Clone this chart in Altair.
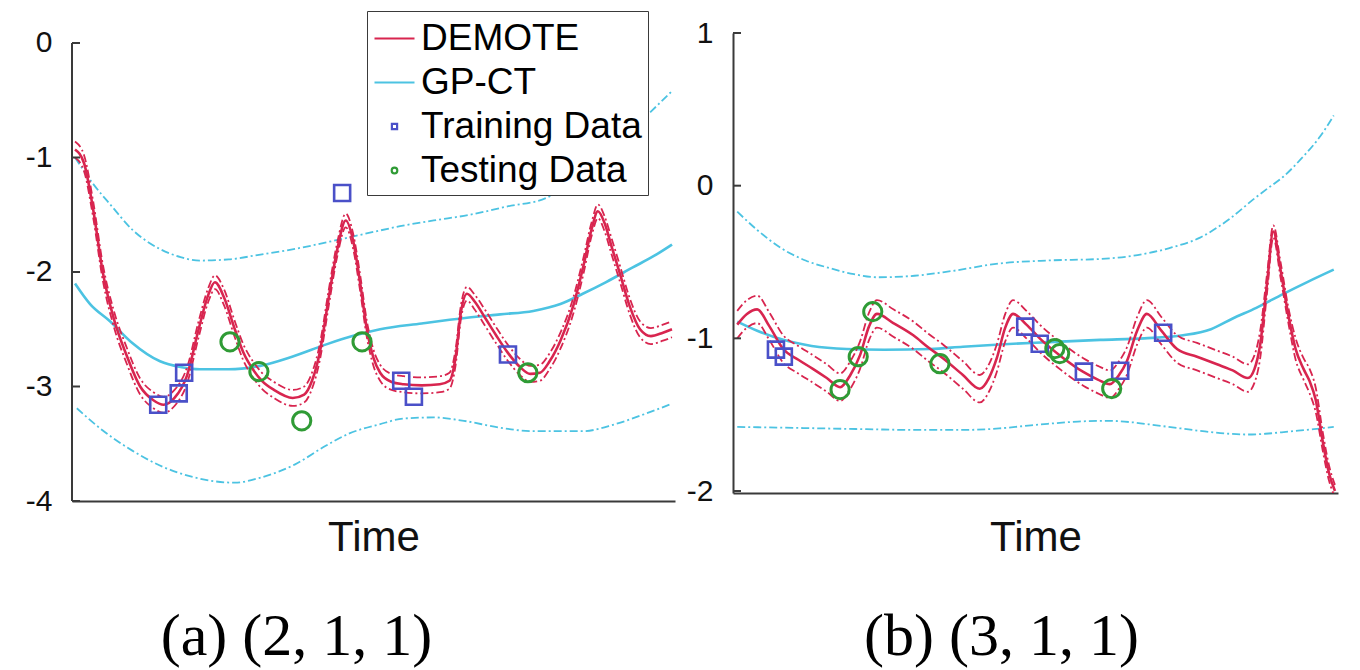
import altair as alt
import pandas as pd

RED = "#d8254f"
CYAN = "#4cc3e2"
BLUE = "#4a50c8"
GREEN = "#2f9b35"
AXIS = "#3a3a3a"
DASH = [8, 3, 2, 3]

# ---------------- panel (a) ----------------
a_dm_x = [0.5, 2, 3.5, 5.1, 7, 9, 11.3, 13.5, 15.2, 17, 19.1, 21, 22.6, 23.7, 25.2, 27, 28.4, 30, 31.5, 33.5,
          36.6, 38.5, 39.8, 41.1, 42.5, 44, 45.4, 46.6, 47.8, 48.9, 50, 51.1, 53, 55, 58, 61, 62.6, 63.6, 64.5,
          65.5, 66.8, 68.5, 70.3, 72.2, 74.3, 76, 77.6, 79.2, 81, 83.1, 84.8, 86.2, 87.2, 88.3, 89.5, 90.9,
          92.5, 94.2, 96, 98, 99.5]
a_dm_y = [-0.93, -1.05, -1.45, -2.0, -2.42, -2.72, -3.0, -3.12, -3.16, -3.1, -2.9, -2.5, -2.2, -2.09, -2.22,
          -2.5, -2.7, -2.85, -2.95, -3.03, -3.1, -3.07, -2.95, -2.7, -2.25, -1.8, -1.55, -1.72, -2.1, -2.5,
          -2.75, -2.88, -2.96, -2.98, -2.99, -2.98, -2.95, -2.75, -2.35, -2.19, -2.26, -2.4, -2.55, -2.7,
          -2.83, -2.89, -2.88, -2.78, -2.6, -2.3, -1.95, -1.62, -1.47, -1.57, -1.78, -2.02, -2.3, -2.5,
          -2.56, -2.53, -2.5]
a_du_y = [-0.86, -0.98, -1.38, -1.93, -2.35, -2.65, -2.93, -3.05, -3.09, -3.03, -2.83, -2.43, -2.14, -2.03,
          -2.15, -2.43, -2.63, -2.78, -2.88, -2.96, -3.03, -3.0, -2.88, -2.63, -2.18, -1.74, -1.49, -1.66,
          -2.03, -2.43, -2.68, -2.81, -2.89, -2.91, -2.92, -2.91, -2.88, -2.68, -2.29, -2.13, -2.2, -2.33,
          -2.48, -2.63, -2.76, -2.82, -2.81, -2.71, -2.53, -2.23, -1.88, -1.56, -1.41, -1.51, -1.71, -1.95,
          -2.23, -2.43, -2.49, -2.46, -2.43]
a_dl_y = [-1.0, -1.12, -1.52, -2.07, -2.49, -2.79, -3.07, -3.19, -3.23, -3.17, -2.97, -2.57, -2.26, -2.15,
          -2.29, -2.57, -2.77, -2.92, -3.02, -3.1, -3.17, -3.14, -3.02, -2.77, -2.32, -1.86, -1.61, -1.79,
          -2.17, -2.57, -2.82, -2.95, -3.03, -3.05, -3.06, -3.05, -3.02, -2.82, -2.41, -2.25, -2.33, -2.47,
          -2.62, -2.77, -2.9, -2.96, -2.95, -2.85, -2.67, -2.37, -2.02, -1.68, -1.53, -1.64, -1.85, -2.09,
          -2.37, -2.57, -2.63, -2.6, -2.57]
a_gm_x = [0.5, 3, 6.3, 10, 14.6, 18, 21.2, 26, 31.2, 36.5, 42.3, 46.5, 51.1, 58, 65.5, 71, 76.5, 81, 84.7,
          88.5, 93.0, 96.5, 99.5]
a_gm_y = [-2.10, -2.28, -2.43, -2.62, -2.78, -2.83, -2.85, -2.85, -2.82, -2.74, -2.63, -2.56, -2.50, -2.45,
          -2.40, -2.37, -2.34, -2.28, -2.19, -2.09, -1.96, -1.86, -1.76]
a_gu_x = [0.5, 3.5, 6.5, 10, 14.6, 18, 21.2, 26, 31, 37.8, 44, 50, 54.4, 60, 66, 72, 78.8, 82, 86, 90, 93.5,
          96, 99.5]
a_gu_y = [-1.0, -1.23, -1.42, -1.63, -1.8, -1.87, -1.9, -1.89, -1.85, -1.79, -1.72, -1.65, -1.6, -1.55, -1.5,
          -1.43, -1.35, -1.25, -1.11, -0.93, -0.73, -0.6, -0.42]
a_gl_x = [0.8, 5, 10, 15, 20, 27, 31, 37, 42, 46, 51, 55, 60, 65, 71, 76.5, 84.7, 90, 95, 99.5]
a_gl_y = [-3.19, -3.38, -3.56, -3.7, -3.79, -3.84, -3.8, -3.68, -3.52, -3.41, -3.33, -3.28, -3.27, -3.3,
          -3.36, -3.39, -3.39, -3.33, -3.24, -3.15]
a_train_x = [14.3, 17.7, 18.6, 44.8, 54.6, 56.7, 72.3]
a_train_y = [-3.16, -3.06, -2.88, -1.31, -2.95, -3.09, -2.72]
a_test_x = [26.2, 31.0, 38.1, 48.1, 75.6]
a_test_y = [-2.61, -2.87, -3.30, -2.61, -2.88]
a_ticks = [0, -1, -2, -3, -4]

# ---------------- panel (b) ----------------
b_dm_x = [0.7, 2.3, 4.0, 6, 8.3, 10.8, 13.2, 15.5, 17.7, 19.4, 21.0, 22.5, 23.8, 26.5, 29.8, 32.3, 34.7, 38.0,
          40.8, 42.3, 43.6, 45.0, 46.3, 48.5, 50.7, 54.3, 57.9, 60.3, 62.3, 63.8, 65.1, 66.8, 68.4, 70.8, 73.4,
          76.7, 80.0, 82.6, 85.1, 86.2, 87.1, 88.3, 89.3, 90.5, 91.8, 93.0, 94.3, 95.3, 96.3, 97.5, 98.5, 99.5]
b_dm_y = [-0.91, -0.84, -0.81, -0.92, -1.07, -1.14, -1.20, -1.26, -1.32, -1.24, -1.11, -0.92, -0.84, -0.9,
          -0.98, -1.06, -1.13, -1.24, -1.33, -1.26, -1.13, -0.93, -0.84, -0.91, -1.00, -1.12, -1.22, -1.27,
          -1.30, -1.24, -1.15, -0.95, -0.84, -0.95, -1.07, -1.12, -1.17, -1.21, -1.26, -1.2, -1.05, -0.63,
          -0.30, -0.55, -0.85, -1.07, -1.2, -1.28, -1.4, -1.68, -1.88, -2.0]
b_du_y = [-0.82, -0.75, -0.72, -0.83, -0.98, -1.05, -1.11, -1.17, -1.23, -1.15, -1.02, -0.83, -0.75, -0.81,
          -0.89, -0.97, -1.04, -1.15, -1.24, -1.17, -1.04, -0.84, -0.75, -0.82, -0.91, -1.03, -1.13, -1.18,
          -1.21, -1.15, -1.06, -0.86, -0.75, -0.86, -0.98, -1.03, -1.08, -1.12, -1.17, -1.11, -0.96, -0.57,
          -0.26, -0.5, -0.8, -1.0, -1.13, -1.2, -1.32, -1.62, -1.83, -1.96]
b_dl_y = [-1.0, -0.93, -0.9, -1.01, -1.16, -1.23, -1.29, -1.35, -1.41, -1.33, -1.2, -1.01, -0.93, -0.99,
          -1.07, -1.15, -1.22, -1.33, -1.42, -1.35, -1.22, -1.02, -0.93, -1.0, -1.09, -1.21, -1.31, -1.36,
          -1.39, -1.33, -1.24, -1.04, -0.93, -1.04, -1.16, -1.21, -1.26, -1.3, -1.35, -1.29, -1.14, -0.69,
          -0.34, -0.6, -0.9, -1.14, -1.27, -1.36, -1.48, -1.74, -1.93, -2.04]
b_gm_x = [0.7, 4, 8.3, 13, 18.8, 25, 32.6, 38, 44.1, 52, 60.7, 68, 74.4, 79, 82.6, 86.5, 90.9, 95, 99.3]
b_gm_y = [-0.89, -0.95, -1.01, -1.05, -1.07, -1.075, -1.07, -1.055, -1.04, -1.025, -1.01, -1.0, -0.98,
          -0.94, -0.87, -0.8, -0.71, -0.63, -0.55]
b_gu_x = [0.7, 4, 8, 12, 16, 20, 24, 30, 36, 44, 52, 60.7, 66, 72, 77.2, 82, 86, 88.3, 91, 94, 97, 99.3]
b_gu_y = [-0.17, -0.29, -0.41, -0.49, -0.54, -0.58, -0.6, -0.59, -0.56, -0.51, -0.49, -0.48, -0.46, -0.41,
          -0.34, -0.22, -0.09, -0.02, 0.06, 0.18, 0.32, 0.46]
b_gl_x = [0.7, 8, 15, 22, 30, 38, 44, 48, 52, 57, 62, 66, 70, 74, 78, 82, 85, 88, 92, 96, 99.3]
b_gl_y = [-1.58, -1.585, -1.59, -1.595, -1.6, -1.6, -1.59, -1.575, -1.56, -1.545, -1.54, -1.55, -1.57, -1.59,
          -1.61, -1.625, -1.63, -1.625, -1.61, -1.595, -1.58]
b_train_x = [7.1, 8.4, 48.3, 50.7, 58.0, 64.0, 71.1]
b_train_y = [-1.074, -1.120, -0.923, -1.035, -1.218, -1.212, -0.963]
b_test_x = [17.7, 20.7, 23.1, 34.2, 53.2, 54.0, 62.6]
b_test_y = [-1.336, -1.120, -0.825, -1.166, -1.067, -1.100, -1.329]
b_ticks = [1, 0, -1, -2]

legend_names = ["DEMOTE", "GP-CT", "Training Data", "Testing Data"]
legend_colors = [RED, CYAN, BLUE, GREEN]
legend_shapes = ["M-1,0H1", "M-1,0H1",
                 "M-0.13,-0.13H0.13V0.13H-0.13Z",
                 "M0.14,0A0.14,0.14,0,1,1,-0.14,0A0.14,0.14,0,1,1,0.14,0Z"]


def long_df(parts):
    rows = []
    for name, xs, ys in parts:
        for x, y in zip(xs, ys):
            rows.append({"x": x, "y": y, "s": name})
    return pd.DataFrame(rows)


def panel(w, h, ydom, ticks, dm_x, dm_y, du_y, dl_y, gm_x, gm_y, gu_x, gu_y, gl_x, gl_y,
          tr_x, tr_y, te_x, te_y, caption, cap_dx, manual_axis, with_legend, tpad):
    xs = alt.Scale(domain=[0, 100], nice=False, zero=False)
    ys = alt.Scale(domain=ydom, nice=False, zero=False)
    xax = alt.Axis(title="Time", labels=False, ticks=False, grid=False, domain=True, titlePadding=tpad,
                   titleFont="Liberation Sans", titleFontSize=42, titleFontWeight="normal",
                   titleColor="#111111", domainColor=AXIS, domainWidth=2)
    yax = alt.Axis(title=None, values=ticks, ticks=False, grid=False, domain=not manual_axis,
                   labelPadding=20, labelExpr="'' + datum.value", labelFont="Liberation Sans",
                   labelFontSize=30, labelColor="#111111", domainColor=AXIS, domainWidth=2)
    X = alt.X("x:Q", scale=xs, axis=xax)
    Y = alt.Y("y:Q", scale=ys, axis=yax)

    gpb = long_df([("up", gu_x, gu_y), ("lo", gl_x, gl_y)])
    gpm = long_df([("m", gm_x, gm_y)])
    dmb = long_df([("up", dm_x, du_y), ("lo", dm_x, dl_y)])
    dmm = long_df([("m", dm_x, dm_y)])
    tr = pd.DataFrame({"x": tr_x, "y": tr_y})
    te = pd.DataFrame({"x": te_x, "y": te_y})
    tk = pd.DataFrame({"y": ticks})

    layers = [
        alt.Chart(gpb).mark_line(color=CYAN, strokeDash=DASH, strokeWidth=1.8, interpolate="monotone",
                                 clip=True).encode(x=X, y=Y, detail="s:N"),
        alt.Chart(gpm).mark_line(color=CYAN, strokeWidth=2.6, interpolate="monotone", clip=True)
        .encode(x=X, y=Y),
        alt.Chart(dmb).mark_line(color=RED, strokeDash=DASH, strokeWidth=1.8, interpolate="monotone",
                                 clip=True).encode(x=X, y=Y, detail="s:N"),
        alt.Chart(dmm).mark_line(color=RED, strokeWidth=2.6, interpolate="monotone", clip=True)
        .encode(x=X, y=Y),
        alt.Chart(tr).mark_point(shape="square", size=256, color=BLUE, strokeWidth=2.6, filled=False,
                                 opacity=1).encode(x=X, y=Y),
        alt.Chart(te).mark_point(shape="circle", size=330, color=GREEN, strokeWidth=3, filled=False,
                                 opacity=1).encode(x=X, y=Y),
        alt.Chart(tk).mark_rule(color=AXIS, strokeWidth=2)
        .encode(y=Y, x=alt.value(0), x2=alt.value(8)),
    ]
    if manual_axis:
        ax = pd.DataFrame({"y": [max(ticks)], "y2": [min(ticks)]})
        layers.append(alt.Chart(ax).mark_rule(color=AXIS, strokeWidth=2)
                      .encode(y=Y, y2="y2:Q", x=alt.value(0)))
    if with_legend:
        lg = pd.DataFrame({"series": legend_names})
        leg = alt.Legend(title=None, orient="none", legendX=295, legendY=-22,
                         labelFont="Liberation Sans", labelFontSize=37, labelColor="black",
                         labelLimit=600, symbolSize=1600, symbolStrokeWidth=2.2, rowPadding=4,
                         padding=6, strokeColor=AXIS, fillColor="white", labelOffset=5,
                         symbolOpacity=1)
        layers.append(
            alt.Chart(lg).mark_point(clip=True, filled=False, opacity=1).encode(
                x=alt.value(-200), y=alt.value(-200),
                color=alt.Color("series:N", scale=alt.Scale(domain=legend_names, range=legend_colors),
                                legend=leg),
                shape=alt.Shape("series:N", scale=alt.Scale(domain=legend_names, range=legend_shapes),
                                legend=leg),
            )
        )
    return alt.layer(*layers).properties(
        width=w, height=h,
        title=alt.TitleParams(text=caption, orient="bottom", anchor="middle", frame="group",
                              font="Liberation Serif", fontSize=60, fontWeight="normal",
                              color="black", dx=cap_dx, offset=50),
    )


left = panel(603, 468, [-4, 0.0873], a_ticks, a_dm_x, a_dm_y, a_du_y, a_dl_y, a_gm_x, a_gm_y,
             a_gu_x, a_gu_y, a_gl_x, a_gl_y, a_train_x, a_train_y, a_test_x, a_test_y,
             "(a) (2, 1, 1)", -77, True, True, 16)
right = panel(605, 460, [-2.013, 1.0], b_ticks, b_dm_x, b_dm_y, b_du_y, b_dl_y, b_gm_x, b_gm_y,
              b_gu_x, b_gu_y, b_gl_x, b_gl_y, b_train_x, b_train_y, b_test_x, b_test_y,
              "(b) (3, 1, 1)", -34, False, False, 24)

chart = alt.hconcat(left, right, spacing=58, bounds="flush", background="white",
                    padding={"left": 17, "top": 2, "right": 5, "bottom": 5}).configure_view(
    stroke=None
)

chart.save("out.html", embed_options={"renderer": "svg", "actions": False})
